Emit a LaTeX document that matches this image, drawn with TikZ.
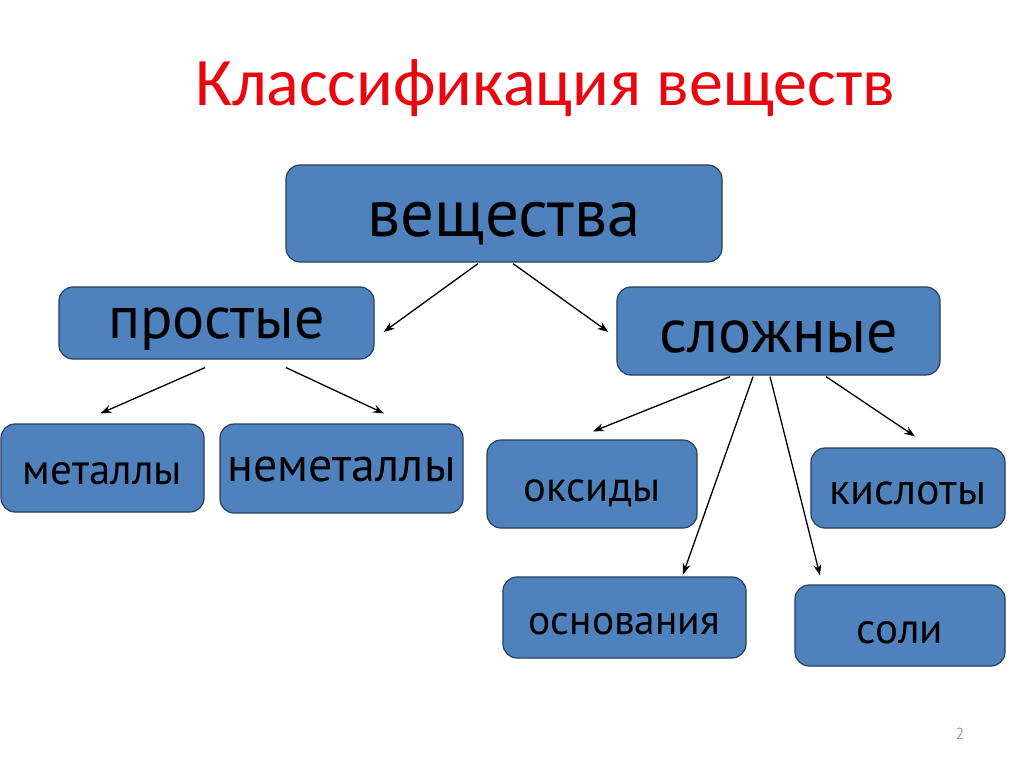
\documentclass[tikz,border=0pt]{standalone}
\usepackage{fontspec}
\setmainfont{PT Sans}
\newfontfamily\titlefont{Carlito}
\usetikzlibrary{arrows.meta,calc}
\definecolor{boxfill}{HTML}{4F81BD}
\definecolor{boxline}{HTML}{243F60}
\definecolor{ttl}{HTML}{E8070E}
\definecolor{pagenum}{HTML}{A0A0A0}

\begin{document}
\begin{tikzpicture}[x=1pt,y=-1pt,
    box/.style={draw=boxline,line width=1.2pt,fill=boxfill,rounded corners=14pt,inner sep=0pt,text=black},
    txt/.style 2 args={font=\fontsize{#1}{#1}\selectfont,text height=#2,text depth=0pt},
    arr/.style={line width=1.3pt,-{Stealth[length=11pt,width=8pt]}}]
\useasboundingbox (0,0) rectangle (1024,767);

% Title
\node[text=ttl,font=\titlefont\fontsize{68}{72}\selectfont] (title) at (545,88) {Классификация веществ};

% Top box
\node[box,txt={67}{46.5pt},minimum width=436pt,minimum height=97pt] (ves) at (504,213.5) {вещества};

% Second row
\node[box,txt={60}{30pt},minimum width=315pt,minimum height=72pt] (prost) at (216.5,323) {простые};
\node[box,txt={62}{42pt},minimum width=323pt,minimum height=88pt] (slozh) at (778.5,331) {сложные};

% Simple substances
\node[box,txt={43}{32.5pt},minimum width=203pt,minimum height=88pt] (met) at (102.5,468) {металлы};
\node[box,txt={48}{25pt},minimum width=243pt,minimum height=89pt] (nemet) at (341.5,468.5) {неметаллы};

% Compound substances
\node[box,txt={42.5}{35pt},minimum width=210pt,minimum height=88pt] (oks) at (592,484) {оксиды};
\node[box,txt={44}{33pt},minimum width=194pt,minimum height=80pt] (kisl) at (908,488) {кислоты};
\node[box,txt={41.5}{34pt},minimum width=243pt,minimum height=81pt] (osn) at (624.5,617.5) {основания};
\node[box,txt={43}{35.5pt},minimum width=210pt,minimum height=81pt] (soli) at (900,625.5) {соли};

% Page number
\node[text=pagenum,font=\fontsize{16}{18}\selectfont] (page) at (960,734) {2};

% Arrows from top box
\draw[arr] ($(ves.south)+(-26,1)$) -- ($(prost.east)+(9,9)$);
\draw[arr] ($(ves.south)+(9,1)$) -- ($(slozh.west)+(-8,1)$);

% Arrows from simple
\draw[arr] ($(prost.south)+(-11.5,8)$) -- ($(met.north)+(-2,-10)$);
\draw[arr] ($(prost.south)+(69.5,8)$) -- ($(nemet.north)+(42.5,-10)$);

% Arrows from compound
\draw[arr] ($(slozh.south)+(-48.5,1)$) -- ($(oks.north)+(1,-8)$);
\draw[arr] ($(slozh.south)+(-25.5,1)$) -- ($(osn.north)+(58.5,-2)$);
\draw[arr] ($(slozh.south)+(-8.5,1)$) -- ($(soli.north)+(-80,-9)$);
\draw[arr] ($(slozh.south)+(47.5,1)$) -- ($(kisl.north)+(7,-11)$);
\end{tikzpicture}
\end{document}
